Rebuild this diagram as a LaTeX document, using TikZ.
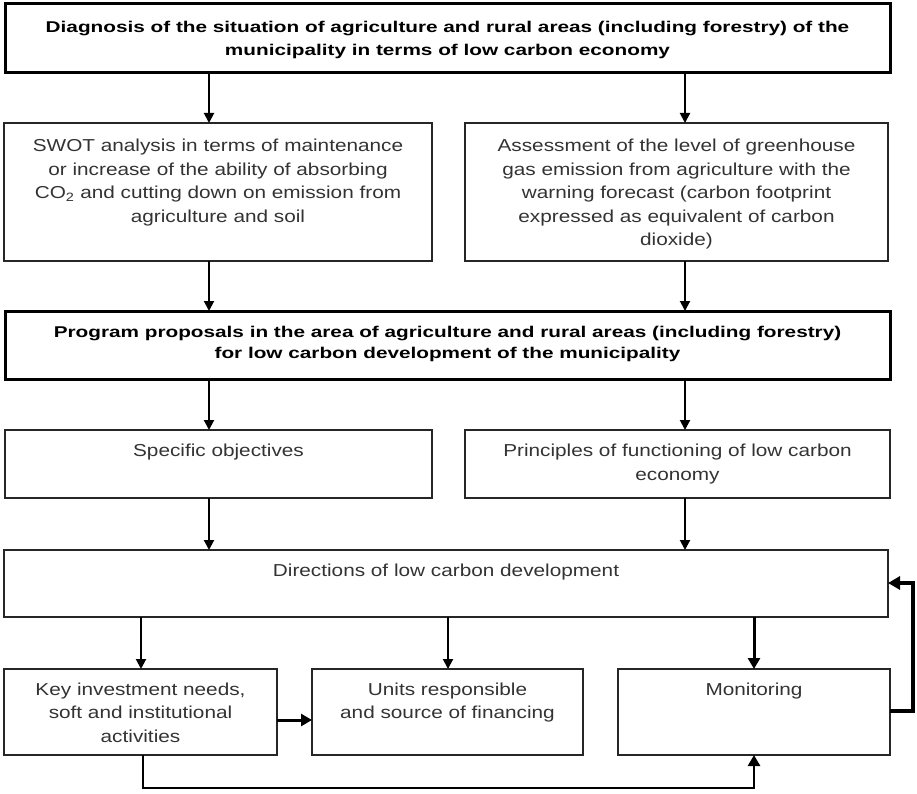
\documentclass[tikz,border=0pt]{standalone}
\usepackage{fontspec}
\setmainfont{Liberation Sans}
\newfontfamily\bodyfont[FakeStretch=1.2]{Liberation Sans}
\newfontfamily\titlefont[FakeStretch=1.33]{Liberation Sans}
\usetikzlibrary{arrows.meta,calc}
\begin{document}
\begin{tikzpicture}[x=1pt,y=-1pt,
  box/.style={draw=black!85, line width=1.3pt, anchor=north west, inner sep=0pt, outer sep=0pt, fill=white},
  bigbox/.style={box, draw=black, line width=3pt},
  txt/.style={inner sep=0pt, anchor=north, align=center, text=black!80, font=\fontsize{17.3}{23.5}\selectfont\bodyfont},
  ttl/.style={inner sep=0pt, anchor=north, align=center, text=black, font=\fontsize{15.6}{23}\selectfont\titlefont\bfseries},
  pttl/.style={ttl, font=\fontsize{15.6}{21}\selectfont\titlefont\bfseries},
  arr/.style={-{Triangle[length=10pt,width=10pt]}, line width=2pt},
  tarr/.style={-{Triangle[length=11pt,width=12pt]}, line width=3pt},
  farr/.style={-{Triangle[length=12pt,width=13pt]}, line width=3.6pt},
]
\useasboundingbox (0,0) rectangle (917,794);

% boxes
\node[bigbox, minimum width=885pt, minimum height=69pt] (top) at (5,4) {};
\node[box, minimum width=428pt, minimum height=138pt] (swot) at (4,123) {};
\node[box, minimum width=423pt, minimum height=138pt] (assess) at (465,123) {};
\node[bigbox, minimum width=885pt, minimum height=68pt] (prog) at (5,311) {};
\node[box, minimum width=427pt, minimum height=68pt] (spec) at (5,430) {};
\node[box, minimum width=425pt, minimum height=68pt] (princ) at (465,430) {};
\node[box, minimum width=884pt, minimum height=67pt] (dir) at (4,550) {};
\node[box, minimum width=273pt, minimum height=86pt] (key) at (4,669) {};
\node[box, minimum width=271pt, minimum height=86pt] (units) at (312,669) {};
\node[box, minimum width=272pt, minimum height=86pt] (mon) at (618,669) {};

% texts
\node[ttl] (topT) at ($(top.north)+(0,11.9)$) {\strut Diagnosis of the situation of agriculture and rural areas (including forestry) of the\\ municipality in terms of low carbon economy};
\node[txt] (swotT) at ($(swot.north)+(0,12)$) {\strut SWOT analysis in terms of maintenance\\ or increase of the ability of absorbing\\ CO\textsubscript{2} and cutting down on emission from\\ agriculture and soil};
\node[txt] (assessT) at ($(assess.north)+(0,12)$) {\strut Assessment of the level of greenhouse\\ gas emission from agriculture with the\\ warning forecast (carbon footprint\\ expressed as equivalent of carbon\\ dioxide)};
\node[pttl] (progT) at ($(prog.north)+(0,11.3)$) {\strut Program proposals in the area of agriculture and rural areas (including forestry)\\ for low carbon development of the municipality};
\node[txt] (specT) at ($(spec.north)+(0,10.2)$) {\strut Specific objectives};
\node[txt] (princT) at ($(princ.north)+(0,10.2)$) {\strut Principles of functioning of low carbon\\ economy};
\node[txt] (dirT) at ($(dir.north)+(0,9.5)$) {\strut Directions of low carbon development};
\node[txt] (keyT) at ($(key.north)+(0,9.5)$) {\strut Key investment needs,\\ soft and institutional\\ activities};
\node[txt] (unitsT) at ($(units.north)+(0,9.5)$) {\strut Units responsible\\ and source of financing};
\node[txt] (monT) at ($(mon.north)+(0,9.5)$) {\strut Monitoring};

% columns
\coordinate (cL) at (209,0);
\coordinate (cR) at (685,0);
\coordinate (c1) at (141,0);
\coordinate (c2) at (448,0);
\coordinate (c3) at (754,0);
\coordinate (c4) at (0,720);
\coordinate (b1) at (143,788);
\coordinate (f1) at (913,711);
\coordinate (f2) at (913,583);

% connectors
\draw[arr] (top.south -| cL) -- (swot.north -| cL);
\draw[arr] (top.south -| cR) -- (assess.north -| cR);
\draw[arr] (swot.south -| cL) -- (prog.north -| cL);
\draw[arr] (assess.south -| cR) -- (prog.north -| cR);
\draw[arr] (prog.south -| cL) -- (spec.north -| cL);
\draw[arr] (prog.south -| cR) -- (princ.north -| cR);
\draw[arr] (spec.south -| cL) -- (dir.north -| cL);
\draw[arr] (princ.south -| cR) -- (dir.north -| cR);
\draw[arr] (dir.south -| c1) -- (key.north -| c1);
\draw[arr] (dir.south -| c2) -- (units.north -| c2);
\draw[tarr] (dir.south -| c3) -- (mon.north -| c3);
\draw[tarr] (key.east |- c4) -- (units.west |- c4);
\draw[tarr, line width=2.6pt] (key.south -| b1) -- (b1) -| (mon.south -| c3);
\draw[farr] (mon.east |- f1) -- (f1) -- (f2) -- (dir.east |- f2);
\end{tikzpicture}
\end{document}
